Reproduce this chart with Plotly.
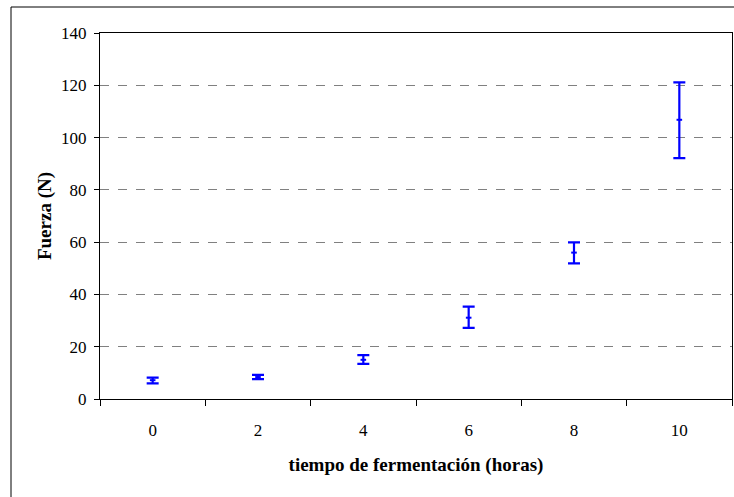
import plotly.graph_objects as go

categories = ["0", "2", "4", "6", "8", "10"]
fuerza_media = [7.2, 8.4, 15.0, 31.1, 56.0, 106.8]
error_sup = [1.0, 0.8, 1.8, 4.2, 3.9, 14.3]
error_inf = [1.2, 0.8, 1.6, 3.9, 4.1, 14.7]
y_ticks = [0, 20, 40, 60, 80, 100, 120, 140]

W, H = 734, 497
L, R, T, B = 100, 2, 33, 98
pw = W - L - R
ph = H - T - B

fig = go.Figure()
fig.add_trace(go.Scatter(
    x=categories, y=fuerza_media, mode="markers",
    marker=dict(symbol="line-ew", size=4, color="#0000FF", line=dict(width=2, color="#0000FF")),
    error_y=dict(type="data", symmetric=False, array=error_sup, arrayminus=error_inf,
                 color="#0000FF", thickness=2.2, width=6),
    showlegend=False,
))

font = "Liberation Serif, Times New Roman, serif"
fig.update_layout(
    width=W, height=H,
    margin=dict(l=L, r=R, t=T, b=B),
    paper_bgcolor="white", plot_bgcolor="white",
    font=dict(family=font, size=17, color="black"),
    xaxis=dict(
        type="category", categoryorder="array", categoryarray=categories,
        range=[-0.5, 5.5], tickson="boundaries", ticks="outside", ticklen=6,
        tickcolor="black", tickwidth=1, showgrid=False,
        showline=True, linecolor="black", linewidth=1, mirror=True,
        tickfont=dict(family=font, size=17), ticklabelstandoff=16,
        title=dict(text="<b>tiempo de fermentación (horas)</b>",
                   font=dict(family=font, size=19), standoff=18),
    ),
    yaxis=dict(
        range=[0, 140], tickvals=y_ticks, ticks="outside", ticklen=5,
        tickcolor="black", tickwidth=1,
        showgrid=True, gridcolor="#808080", griddash="dash", gridwidth=1,
        showline=True, linecolor="black", linewidth=1, mirror=True,
        zeroline=False, tickfont=dict(family=font, size=17), ticklabelstandoff=4,
        title=dict(text="<b>Fuerza (N)</b>", font=dict(family=font, size=19), standoff=4),
    ),
)

fig.add_shape(type="rect", xref="paper", yref="paper",
              x0=(11 - L) / pw, x1=1.2, y0=-0.5, y1=(H - B - 7) / ph,
              line=dict(color="black", width=1), layer="below")

fig.write_html("out.html")
